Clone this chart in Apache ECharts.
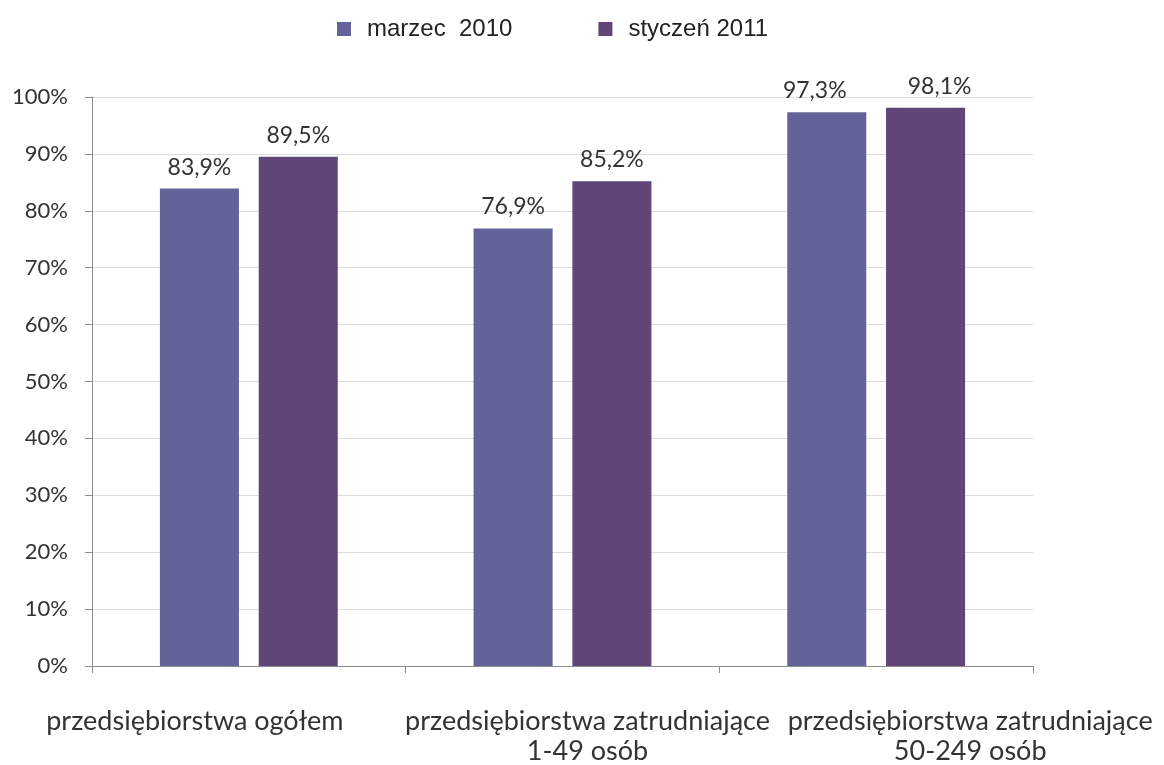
<!DOCTYPE html>
<html>
<head>
<meta charset="utf-8">
<script src="https://cdn.jsdelivr.net/npm/echarts@6/dist/echarts.min.js"></script>
<style>html,body{margin:0;padding:0;background:#fff}#c{width:1164px;height:765px}</style>
</head>
<body>
<div id="c"></div>
<script>
const categories = [
  'przedsiębiorstwa ogółem',
  'przedsiębiorstwa zatrudniające\n1-49 osób',
  'przedsiębiorstwa zatrudniające\n50-249 osób'
];
const seriesNames = ['marzec  2010', 'styczeń 2011'];
const marzec2010 = [83.9, 76.9, 97.3];
const styczen2011 = [89.5, 85.2, 98.1];
const yTicks = [0, 10, 20, 30, 40, 50, 60, 70, 80, 90, 100];

// styling (not data)
const colors = ['#63639a', '#5f4578'];
const labelPads = [[0, 108, 0, 0], [0, 0, 0, 50], [0, 0, 0, 188]];
const labelOffsets = [
  [[0, 0], [0, 0], [-12, 0]],
  [[0, 0], [0, 0], [14, 0]]
];
const FONT = 'Lato';

const rich = {};
labelPads.forEach((p, i) => {
  rich['c' + i] = { padding: p, fontFamily: FONT, fontSize: 27, color: '#333', lineHeight: 30, align: 'center' };
});

function fmt(v) { return v.toFixed(1).replace('.', ',') + '%'; }

function makeSeries(idx, values) {
  return {
    name: seriesNames[idx],
    type: 'bar',
    barWidth: '25.2%',
    barGap: '25%',
    itemStyle: { color: colors[idx] },
    data: values.map((v, i) => ({
      value: v,
      label: { offset: labelOffsets[idx][i] }
    })),
    label: {
      show: true,
      position: 'top',
      distance: 10,
      formatter: p => fmt(p.value),
      fontFamily: FONT,
      fontSize: 23,
      color: '#333'
    }
  };
}

const chart = echarts.init(document.getElementById('c'));
chart.setOption({
  animation: false,
  backgroundColor: '#fff',
  legend: {
    left: 332,
    top: 12,
    itemWidth: 14,
    itemHeight: 14,
    itemGap: 86,
    icon: 'rect',
    formatter: n => '{n|' + n + '}',
    textStyle: {
      rich: { n: { fontFamily: 'Liberation Sans, Arial', fontSize: 24, color: '#222', padding: [0, 0, 0, 11] } }
    },
    data: seriesNames
  },
  grid: { left: 92, right: 131, top: 97, bottom: 99, containLabel: false },
  xAxis: {
    type: 'category',
    data: categories,
    axisLine: { lineStyle: { color: '#8c8c8c', width: 1 } },
    axisTick: { show: true, length: 7, lineStyle: { color: '#8c8c8c' } },
    axisLabel: {
      interval: 0,
      margin: 40,
      formatter: (v, i) => v.split('\n').map(s => '{c' + i + '|' + s + '}').join('\n'),
      rich: rich
    }
  },
  yAxis: {
    type: 'value',
    min: yTicks[0],
    max: yTicks[yTicks.length - 1],
    interval: yTicks[1] - yTicks[0],
    axisLine: { show: true, lineStyle: { color: '#8c8c8c' } },
    axisTick: { show: true, length: 7, lineStyle: { color: '#8c8c8c' } },
    splitLine: { lineStyle: { color: '#dcdcdc' } },
    axisLabel: {
      formatter: '{value}%',
      margin: 24,
      fontFamily: FONT,
      fontSize: 22,
      color: '#333'
    }
  },
  series: [makeSeries(0, marzec2010), makeSeries(1, styczen2011)]
});
</script>
</body>
</html>
